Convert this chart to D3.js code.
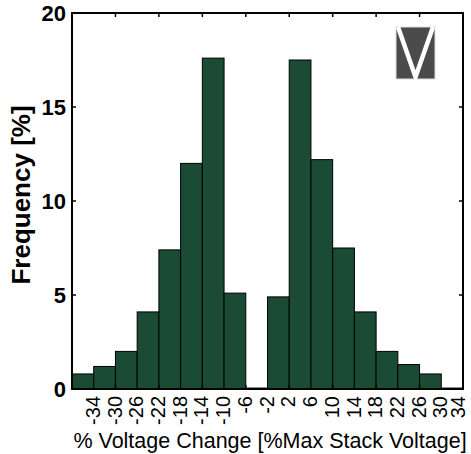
<!DOCTYPE html>
<html>
<head>
<meta charset="utf-8">
<script src="https://cdn.jsdelivr.net/npm/d3@7"></script>
<style>
  body { margin: 0; background: #fff; }
  text { font-family: "Liberation Sans", Arial, sans-serif; }
</style>
</head>
<body>
<div id="chart"></div>
<script>
// bin centres (4 % wide bins) and frequencies
const binCenters = [-34, -30, -26, -22, -18, -14, -10, -6, -2, 2, 6, 10, 14, 18, 22, 26, 30, 34];
const freq = [0.8, 1.2, 2.0, 4.1, 7.4, 12.0, 17.6, 5.1, 0.05, 4.9, 17.5, 12.2, 7.5, 4.1, 2.0, 1.3, 0.8, 0.05];
const xTickLabels = ["-34", "-30", "-26", "-22", "-18", "-14", "-10", "-6", "-2", "2", "6", "10", "14", "18", "22", "26", "30", "34"];
const xMinorTicks = [-28, -20, -12, -4, 4, 12, 20, 28];
const yTicks = [0, 5, 10, 15, 20];

const width = 471,
      height = 454,
      margin = ({ top: 13, right: 8, bottom: 65, left: 72 });

let svg = d3.select("#chart")
    .append("svg")
    .attr("width", width)
    .attr("height", height);

let x = d3.scaleLinear()
    .domain([-36, 36])
    .range([margin.left, width - margin.right]);

let y = d3.scaleLinear()
    .domain([0, 20])
    .range([height - margin.bottom, margin.top]);

const binW = 4;

// bars
svg.selectAll(".bar")
    .data(binCenters)
    .join("rect")
    .attr("class", "bar")
    .attr("x", (d, i) => x(d - binW / 2))
    .attr("width", x(binW) - x(0))
    .attr("y", (d, i) => y(freq[i]))
    .attr("height", (d, i) => y(0) - y(freq[i]))
    .attr("fill", "#1c4b35")
    .attr("stroke", "#000")
    .attr("stroke-width", 1);

// box
svg.append("rect")
    .attr("x", x(-36))
    .attr("y", y(20))
    .attr("width", x(36) - x(-36))
    .attr("height", y(0) - y(20))
    .attr("fill", "none")
    .attr("stroke", "#000")
    .attr("stroke-width", 2);

// inward ticks
const tl = 4;
let ticks = svg.append("g").attr("stroke", "#000").attr("stroke-width", 1.5);
ticks.selectAll(".tt")
    .data(xMinorTicks)
    .join("line")
    .attr("x1", d => x(d)).attr("x2", d => x(d))
    .attr("y1", y(20)).attr("y2", y(20) + tl);
ticks.selectAll(".bt")
    .data(xMinorTicks)
    .join("line")
    .attr("x1", d => x(d)).attr("x2", d => x(d))
    .attr("y1", y(0)).attr("y2", y(0) - tl);
ticks.selectAll(".lt")
    .data(yTicks.slice(1, 4))
    .join("line")
    .attr("x1", x(-36)).attr("x2", x(-36) + tl)
    .attr("y1", d => y(d)).attr("y2", d => y(d));
ticks.selectAll(".rt")
    .data(yTicks.slice(1, 4))
    .join("line")
    .attr("x1", x(36)).attr("x2", x(36) - tl)
    .attr("y1", d => y(d)).attr("y2", d => y(d));

// y tick labels
svg.selectAll(".ylab")
    .data(yTicks)
    .join("text")
    .attr("x", margin.left - 6)
    .attr("y", d => y(d) + 8)
    .attr("text-anchor", "end")
    .style("font-size", "22px")
    .style("font-weight", "bold")
    .text(d => d);

// rotated x tick labels (last one kept inside the page)
svg.selectAll(".xlab")
    .data(binCenters)
    .join("text")
    .attr("transform", d => `translate(${Math.min(x(d) + 11, width - 12)},${y(0) + 7}) rotate(-90)`)
    .attr("text-anchor", "end")
    .attr("dy", "0.3em")
    .style("font-size", "20px")
    .text((d, i) => xTickLabels[i]);

svg.append("text")
    .attr("x", 270)
    .attr("y", 448)
    .attr("text-anchor", "middle")
    .style("font-size", "21.5px")
    .text("% Voltage Change [%Max Stack Voltage]");

svg.append("text")
    .attr("transform", `translate(30,${(y(0) + y(20)) / 2 - 6}) rotate(-90)`)
    .attr("text-anchor", "middle")
    .style("font-size", "26px")
    .style("font-weight", "bold")
    .text("Frequency [%]");

// logo
let logo = svg.append("g");
logo.append("rect")
    .attr("x", 396).attr("y", 27)
    .attr("width", 39).attr("height", 52)
    .attr("fill", "#4b4b4b")
    .attr("stroke", "#ddd")
    .attr("stroke-width", 1);
logo.append("path")
    .attr("d", "M398,27 L415.5,77 L433,27")
    .attr("fill", "none")
    .attr("stroke", "#fff")
    .attr("stroke-width", 4.5);
</script>
</body>
</html>
